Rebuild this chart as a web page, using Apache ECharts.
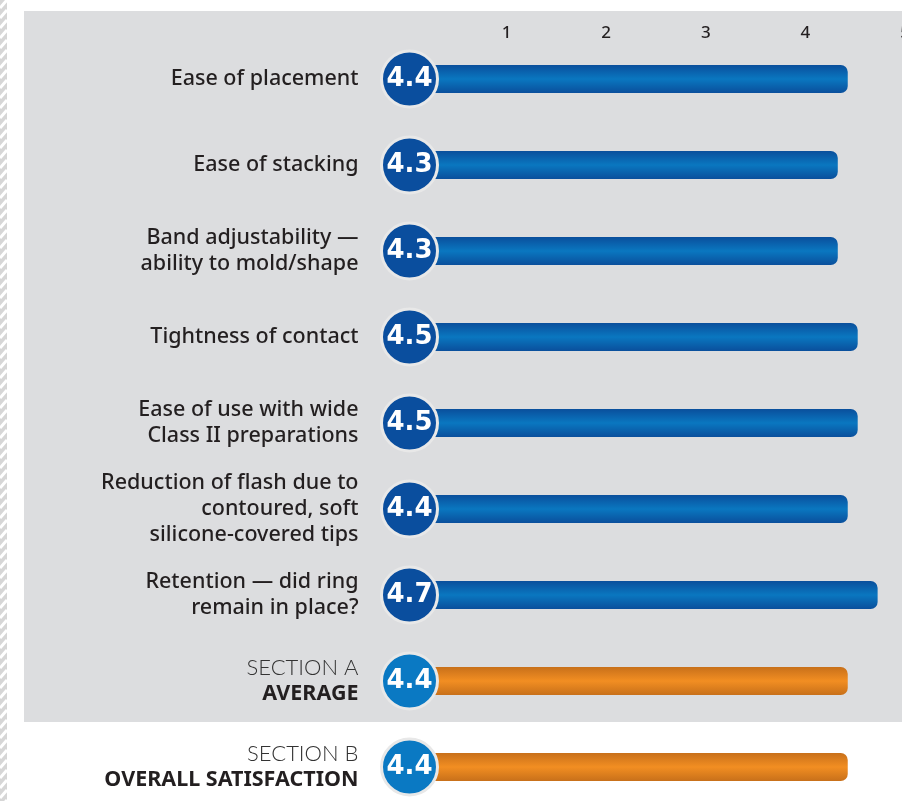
<!DOCTYPE html>
<html>
<head>
<meta charset="utf-8">
<script src="https://cdn.jsdelivr.net/npm/echarts@6/dist/echarts.min.js"></script>
<style>
  html, body { margin: 0; padding: 0; background: #fff; }
  #chart { width: 902px; height: 801px; }
</style>
</head>
<body>
<div id="chart"></div>
<script>
// row labels, top to bottom
const categories = [
  'Ease of placement',
  'Ease of stacking',
  'Band adjustability —\nability to mold/shape',
  'Tightness of contact',
  'Ease of use with wide\nClass II preparations',
  'Reduction of flash due to\ncontoured, soft\nsilicone-covered tips',
  'Retention — did ring\nremain in place?',
  'SECTION A\nAVERAGE',
  'SECTION B\nOVERALL SATISFACTION'
]
const scores = [4.4, 4.3, 4.3, 4.5, 4.5, 4.4, 4.7, 4.4, 4.4]
// 'item' rows are blue, 'summary' rows are orange
const rowKind = ['item', 'item', 'item', 'item', 'item', 'item', 'item', 'summary', 'summary']
const tickLabels = ['', '1', '2', '3', '4', '5']

const blueBar = new echarts.graphic.LinearGradient(0, 0, 0, 1, [
  { offset: 0, color: '#0a4f9c' },
  { offset: 0.5, color: '#0a77c0' },
  { offset: 1, color: '#0a4f9c' },
])
const orangeBar = new echarts.graphic.LinearGradient(0, 0, 0, 1, [
  { offset: 0, color: '#c8701a' },
  { offset: 0.5, color: '#f28e22' },
  { offset: 1, color: '#c8701a' },
])

// hatched strip at the left edge
const stripes = [{ type: 'rect', z: -10, shape: { x: 0, y: 0, width: 7, height: 801 }, style: { fill: '#d6d6d6' } }]
for (let y = -10; y < 815; y += 10) {
  stripes.push({
    type: 'line', z: -9,
    shape: { x1: 0, y1: y + 8, x2: 7, y2: y },
    style: { stroke: '#ffffff', lineWidth: 3 },
  })
}

const chart = echarts.init(document.getElementById('chart'), null, { renderer: 'canvas' })
chart.setOption({
  backgroundColor: '#ffffff',
  animation: false,
  graphic: {
    elements: [
      { type: 'rect', z: -10, shape: { x: 24, y: 11, width: 900, height: 711 }, style: { fill: '#dcdddf' } },
      ...stripes,
    ],
  },
  grid: { left: 409.5, top: 36, width: 498, height: 774, outerBoundsMode: 'none', containLabel: false },
  xAxis: {
    type: 'value',
    position: 'top',
    min: 0,
    max: 5,
    interval: 1,
    axisLine: { show: false },
    axisTick: { show: false },
    splitLine: { show: false },
    axisLabel: {
      margin: -6,
      padding: [0, 5, 0, 0],
      fontFamily: 'Noto Sans',
      fontWeight: 500,
      fontSize: 17,
      color: '#231f20',
      formatter: (v) => tickLabels[Math.round(v)],
    },
  },
  yAxis: {
    type: 'category',
    inverse: true,
    data: categories,
    axisLine: { show: false },
    axisTick: { show: false },
    axisLabel: {
      margin: 51,
      fontFamily: 'Noto Sans',
      fontSize: 21.5,
      lineHeight: 26,
      color: '#231f20',
      align: 'right',
      formatter: (v, i) => {
        const lines = v.split('\n')
        if (rowKind[i] === 'summary') {
          return `{sec|${lines[0]}}\n{tot|${lines[1]}}`
        }
        return lines.map((l) => `{n|${l}}`).join('\n')
      },
      rich: {
        n: { fontFamily: 'Noto Sans', fontWeight: 500, fontSize: 21.5, lineHeight: 26, color: '#231f20' },
        sec: { fontFamily: 'Lato', fontWeight: 300, fontSize: 22, lineHeight: 26, color: '#333333' },
        tot: { fontFamily: 'Noto Sans', fontWeight: 'bold', fontSize: 21.5, lineHeight: 26, color: '#231f20' },
      },
    },
  },
  series: [
    {
      type: 'bar',
      barWidth: 28,
      data: scores.map((s, i) => ({
        value: s,
        itemStyle: {
          color: rowKind[i] === 'summary' ? orangeBar : blueBar,
          borderRadius: [0, 7, 7, 0],
        },
      })),
      z: 2,
    },
    {
      type: 'scatter',
      symbol: 'circle',
      symbolSize: 56,
      data: scores.map((s, i) => ({
        value: [0, i],
        itemStyle: {
          color: rowKind[i] === 'summary' ? '#0a79c3' : '#0a4e9e',
          borderColor: '#e8e8e8',
          borderWidth: 3,
          opacity: 1,
        },
      })),
      label: {
        show: true,
        position: 'inside',
        formatter: (p) => scores[p.dataIndex].toFixed(1),
        fontFamily: 'DejaVu Sans',
        fontWeight: 'bold',
        fontSize: 26,
        color: '#ffffff',
      },
      emphasis: { disabled: true },
      z: 5,
    },
  ],
})
</script>
</body>
</html>
